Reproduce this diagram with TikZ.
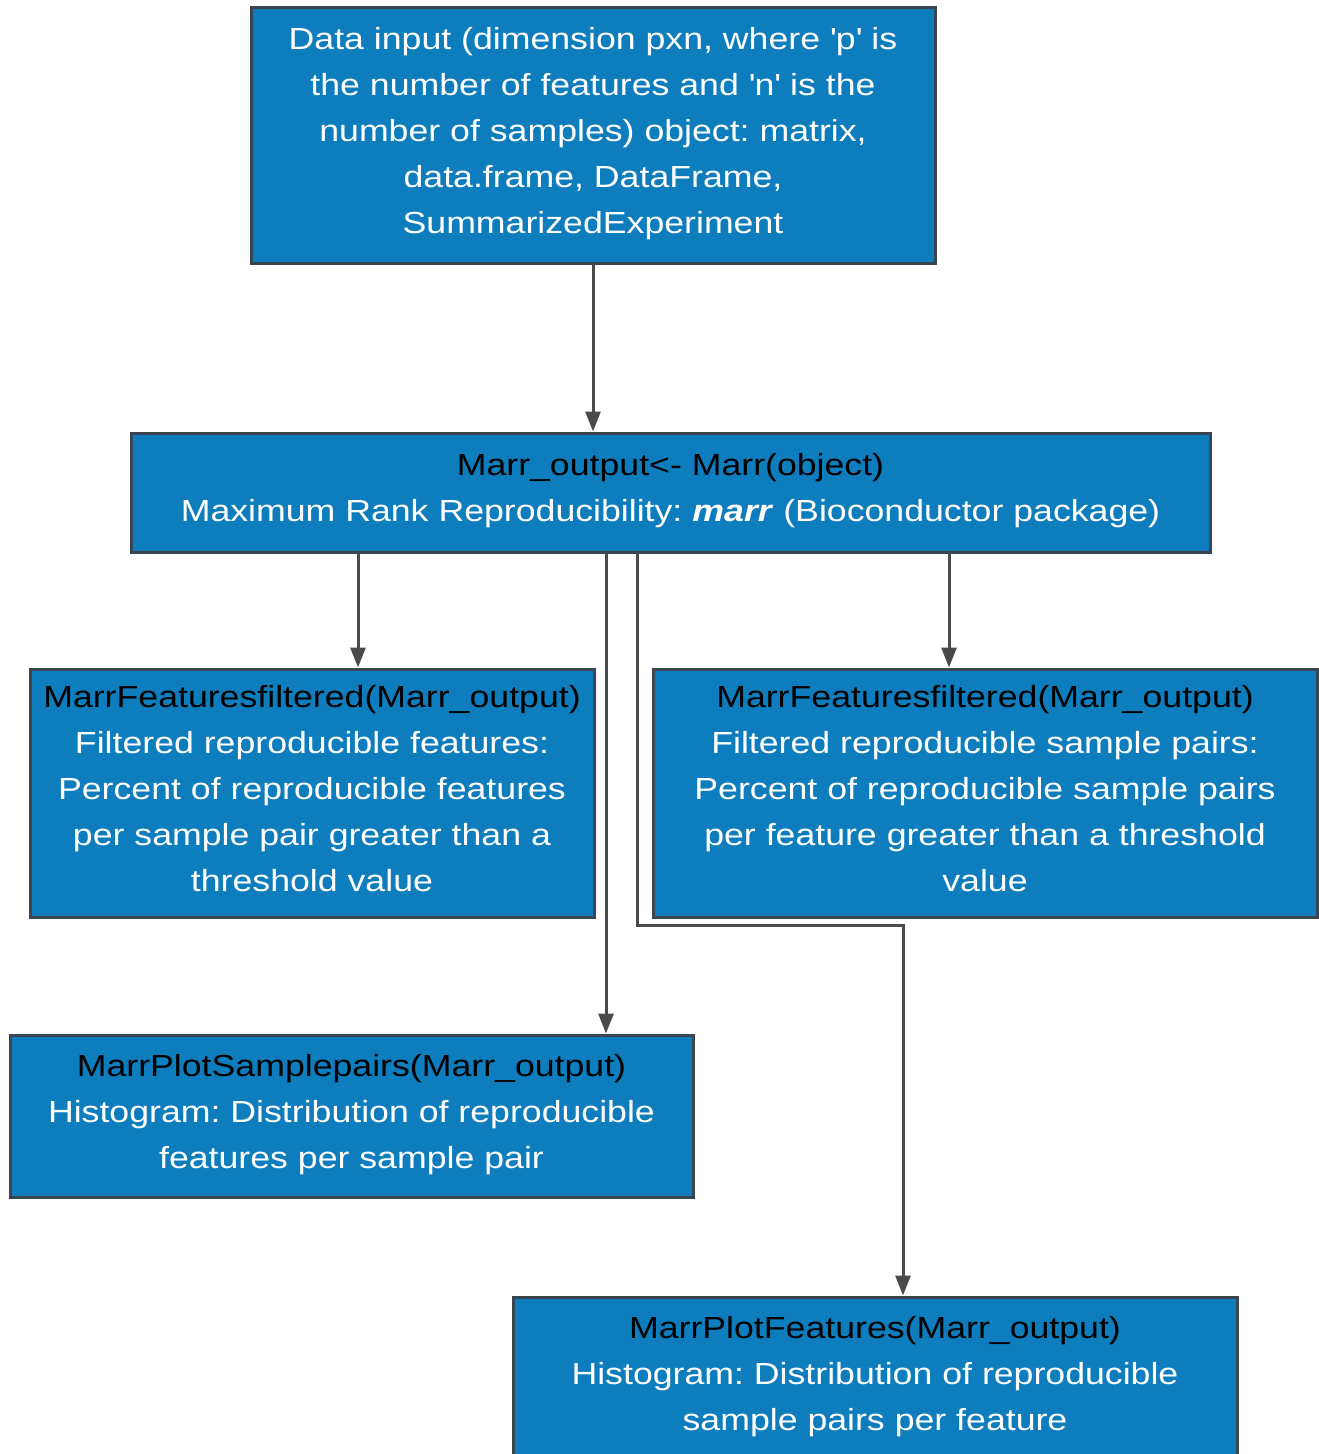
\documentclass[tikz,border=0pt]{standalone}
\usepackage{fontspec}
\setmainfont{Liberation Sans}[FakeStretch=1.17]
\usepackage{xcolor}
\usetikzlibrary{shapes, positioning, arrows.meta}

\definecolor{boxblue}{RGB}{13,125,189}
\definecolor{boxedge}{RGB}{59,69,80}
\definecolor{linkgray}{RGB}{74,74,74}

\tikzset{
    stepbox/.style={rectangle, draw=boxedge, line width=3pt, fill=boxblue,
        text=white, align=center, inner sep=0pt,
        font=\fontsize{30.5}{46}\selectfont\frenchspacing,
        execute at end node={\rule[-10pt]{0pt}{0pt}}},
    link/.style={draw=linkgray, line width=3pt,
        -{Triangle[length=20pt, width=15pt]}},
}
\newcommand{\fname}[1]{\textcolor{black}{#1}}
\newcommand{\q}{\textquotesingle}

\begin{document}
\begin{tikzpicture}[x=1pt, y=-1pt]
        \useasboundingbox (0,0) rectangle (1319,1454);
        \clip (0,0) rectangle (1319,1454);

        \node[stepbox, minimum width=684, minimum height=256] (input) at (593, 135)
            {Data input (dimension pxn, where \q p\q{} is\\
             the number of features and \q n\q{} is the\\
             number of samples) object: matrix,\\
             data.frame, DataFrame,\\
             SummarizedExperiment};
        \node[stepbox, minimum width=1079, minimum height=119] (marr) at (670.5, 492.5)
            {\fname{Marr\_output<- Marr(object)}\\
             Maximum Rank Reproducibility: \textbf{\textit{marr}} (Bioconductor package)};
        \node[stepbox, minimum width=564, minimum height=248] (featfilt) at (312, 793)
            {\fname{MarrFeaturesfiltered(Marr\_output)}\\
             Filtered reproducible features:\\
             Percent of reproducible features\\
             per sample pair greater than a\\
             threshold value};
        \node[stepbox, minimum width=664, minimum height=248] (pairfilt) at (985, 793)
            {\fname{MarrFeaturesfiltered(Marr\_output)}\\
             Filtered reproducible sample pairs:\\
             Percent of reproducible sample pairs\\
             per feature greater than a threshold\\
             value};
        \node[stepbox, minimum width=683, minimum height=162] (plotpairs) at (351.5, 1116)
            {\fname{MarrPlotSamplepairs(Marr\_output)}\\
             Histogram: Distribution of reproducible\\
             features per sample pair};
        \node[stepbox, minimum width=724, minimum height=162] (plotfeat) at (875, 1378)
            {\fname{MarrPlotFeatures(Marr\_output)}\\
             Histogram: Distribution of reproducible\\
             sample pairs per feature};

        % columns where the connectors leave the Marr box
        \coordinate (colA) at (358, 0);
        \coordinate (colB) at (606, 0);
        \coordinate (colC) at (637, 0);
        \coordinate (colD) at (949, 0);
        \coordinate (bend) at (903, 925);

        \draw[link] (input.south) -- (marr.north -| input.south);
        \draw[link] (marr.south -| colA) -- (featfilt.north -| colA);
        \draw[link] (marr.south -| colD) -- (pairfilt.north -| colD);
        \draw[link] (marr.south -| colB) -- (plotpairs.north -| colB);
        \draw[link] (marr.south -| colC) |- (bend) -- (plotfeat.north -| bend);
    \end{tikzpicture}
\end{document}
